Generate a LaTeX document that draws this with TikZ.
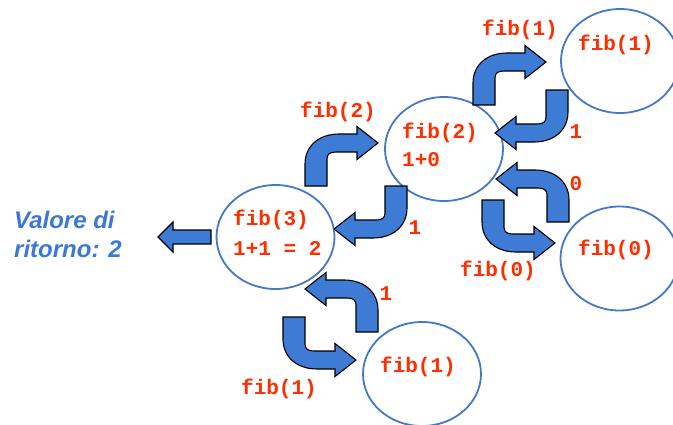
\documentclass[tikz,border=0pt]{standalone}
\usepackage{fontspec}
\setmainfont{Liberation Sans}
\setsansfont{Liberation Sans}
\setmonofont{Liberation Mono}
\usetikzlibrary{shapes.geometric}
\definecolor{ered}{RGB}{255,45,0}
\definecolor{eblue}{RGB}{68,120,200}
\definecolor{afill}{RGB}{62,123,213}
\definecolor{vblue}{RGB}{60,120,216}
\tikzset{
 ell/.style={draw=eblue, line width=1.8pt, ellipse, minimum width=118pt, minimum height=104pt, inner sep=0pt},
 code/.style={text=ered, font=\fontsize{21}{26}\selectfont\ttfamily\bfseries, inner sep=0pt},
 arrowbody/.style={fill=afill, draw=black, line width=1.1pt, line join=miter},
 ret/.style={text=vblue, font=\fontsize{24}{29}\selectfont\sffamily\bfseries\itshape, inner sep=0pt, anchor=base west}
}
\newcommand\bentarrow[1]{\draw[arrowbody,#1] (0,0) -- (0,22) .. controls (0,40) and (14,52) .. (34,52) -- (52,52) -- (52,59.5) -- (73,43) -- (52,26.5) -- (52,34) -- (31,34) .. controls (25,34) and (22,32) .. (22,27) -- (22,0) -- cycle;}
\begin{document}
\begin{tikzpicture}[x=1pt,y=-1pt]
\useasboundingbox (0,0) rectangle (673,424);
% ellipses
\node[ell] (e3) at (275.5,237) {};
\node[ell] (e2) at (444,149) {};
\node[ell] (e1a) at (620,61) {};
\node[ell] (e0) at (619.5,258.5) {};
\node[ell] (e1b) at (422,374) {};
% block arrows
\bentarrow{shift={(305,186)},yscale=-1}
\bentarrow{shift={(473,105)},yscale=-1}
\bentarrow{shift={(568,90)},xscale=-1}
\bentarrow{shift={(569,222)},xscale=-1,yscale=-1}
\bentarrow{shift={(482,200)}}
\bentarrow{shift={(407,186)},xscale=-1}
\bentarrow{shift={(378,332)},xscale=-1,yscale=-1}
\bentarrow{shift={(283,317)}}
\draw[arrowbody] (211,230) -- (173,230) -- (173,222) -- (158,237) -- (173,252) -- (173,244) -- (211,244) -- cycle;
% texts
\node[code] (lf2) at (338,112) {fib(2)};
\node[code] (lf1a) at (520,30) {fib(1)};
\node[code] (tf1a) at (616,45) {fib(1)};
\node[code] (r1a) at (576,132) {1};
\node[code] (r0) at (576,184) {0};
\node[code] (lf0) at (498,271) {fib(0)};
\node[code] (tf0) at (616,250) {fib(0)};
\node[code] (r1b) at (415,228) {1};
\node[code] (r1c) at (386,294) {1};
\node[code] (lf1b) at (279,389) {fib(1)};
\node[code] (tf1b) at (418,367) {fib(1)};
\node[code,anchor=west] (tf3) at (233,220) {fib(3)};
\node[code,anchor=west] (tv3) at (233,248) {1+1 = 2};
\node[code,anchor=west] (tf2) at (402,133) {fib(2)};
\node[code,anchor=west] (tv2) at (402,160) {1+0};
\node[ret] (v1) at (14,228) {Valore di};
\node[ret] (v2) at (14,257) {ritorno: 2};
\end{tikzpicture}
\end{document}
